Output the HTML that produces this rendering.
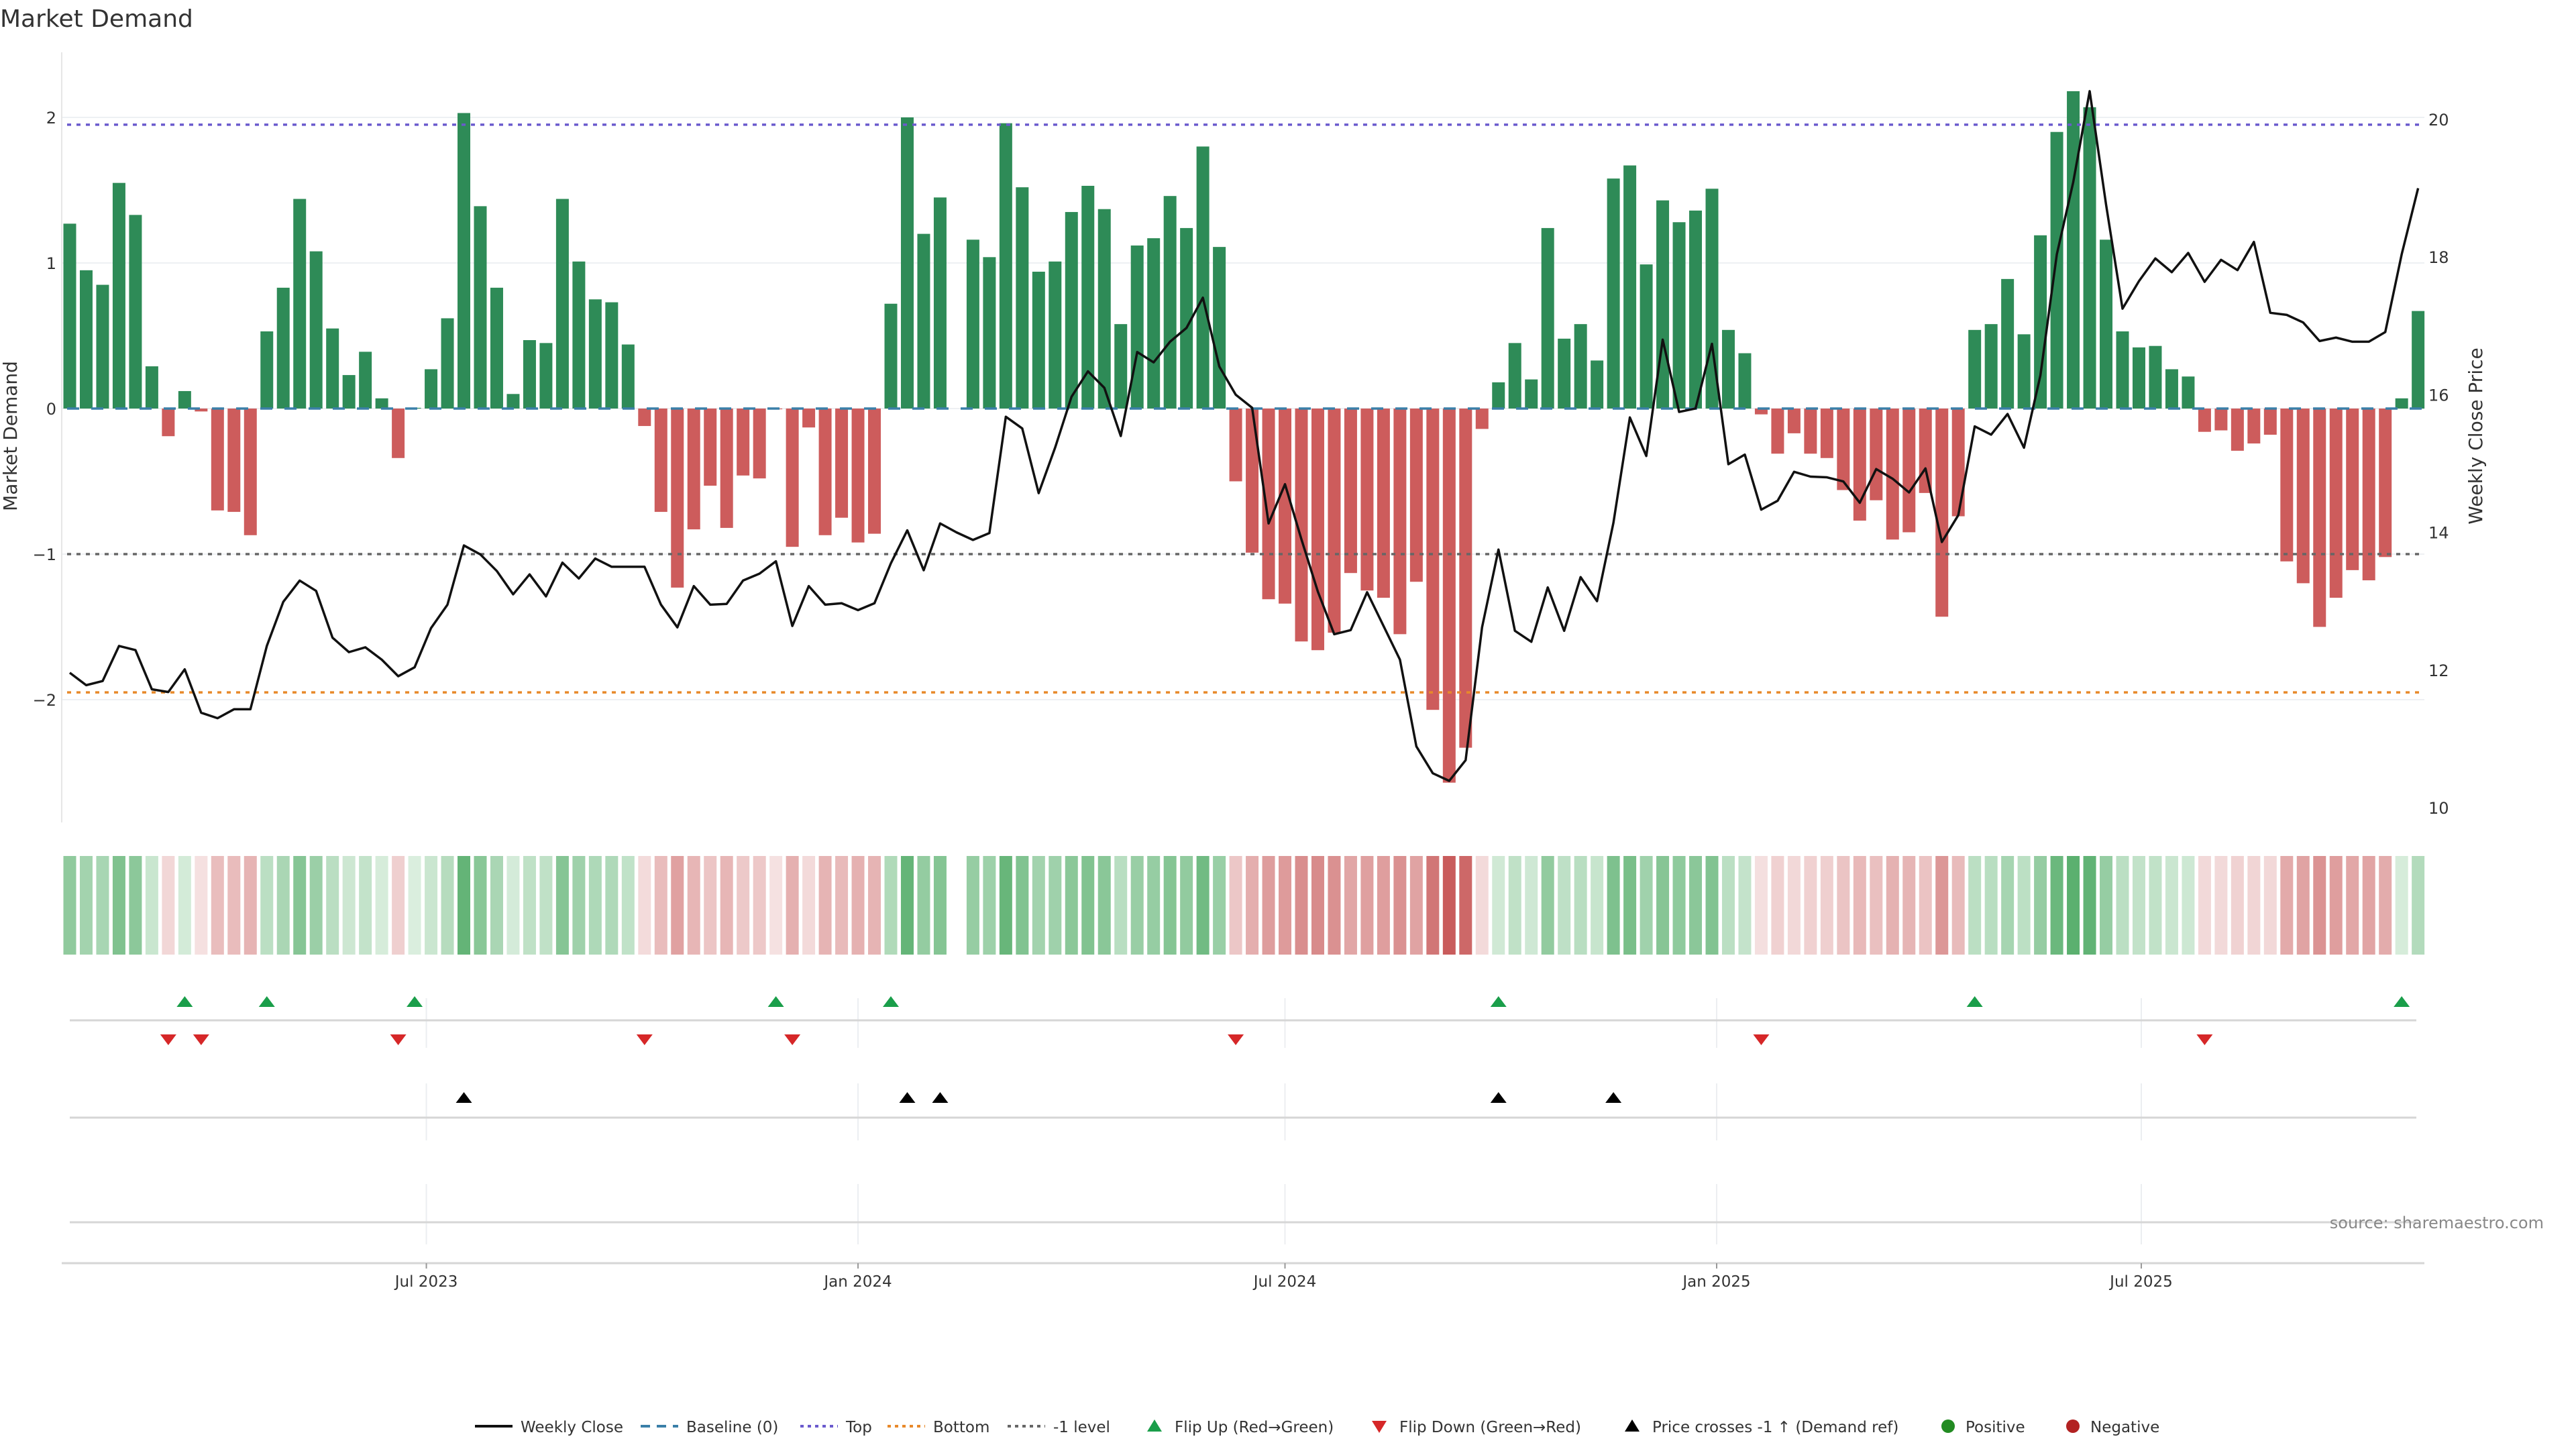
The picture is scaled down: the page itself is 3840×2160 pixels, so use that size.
<!DOCTYPE html>
<html><head><meta charset="utf-8"><style>
html,body{margin:0;padding:0;background:#fff;width:3840px;height:2160px;overflow:hidden}
svg text{font-family:"DejaVu Sans","Liberation Sans",sans-serif}
</style></head><body>
<svg id="chart" width="3840" height="2160" viewBox="0 0 3840 2160" xmlns="http://www.w3.org/2000/svg">
<text x="0" y="40" font-size="36" fill="#333">Market Demand</text>
<g id="grid"></g><g id="bars"></g><g id="lines"></g><g id="heat"></g><g id="marks"></g><g id="axes"></g><g id="legend"></g>
</svg>
<script>
const demand=[1.27,0.95,0.85,1.55,1.33,0.29,-0.19,0.12,-0.02,-0.70,-0.71,-0.87,0.53,0.83,1.44,1.08,0.55,0.23,0.39,0.07,-0.34,0.005,0.27,0.62,2.03,1.39,0.83,0.10,0.47,0.45,1.44,1.01,0.75,0.73,0.44,-0.12,-0.71,-1.23,-0.83,-0.53,-0.82,-0.46,-0.48,-0.005,-0.95,-0.13,-0.87,-0.75,-0.92,-0.86,0.72,2.0,1.2,1.45,null,1.16,1.04,1.96,1.52,0.94,1.01,1.35,1.53,1.37,0.58,1.12,1.17,1.46,1.24,1.80,1.11,-0.50,-0.99,-1.31,-1.34,-1.60,-1.66,-1.54,-1.13,-1.25,-1.30,-1.55,-1.19,-2.07,-2.57,-2.33,-0.14,0.18,0.45,0.20,1.24,0.48,0.58,0.33,1.58,1.67,0.99,1.43,1.28,1.36,1.51,0.54,0.38,-0.04,-0.31,-0.17,-0.31,-0.34,-0.56,-0.77,-0.63,-0.90,-0.85,-0.58,-1.43,-0.74,0.54,0.58,0.89,0.51,1.19,1.90,2.18,2.07,1.16,0.53,0.42,0.43,0.27,0.22,-0.16,-0.15,-0.29,-0.24,-0.18,-1.05,-1.20,-1.50,-1.30,-1.11,-1.18,-1.02,0.07,0.67];
const price=[11.96,11.78,11.84,12.35,12.29,11.72,11.68,12.01,11.38,11.30,11.43,11.43,12.35,12.99,13.30,13.15,12.47,12.26,12.33,12.15,11.91,12.04,12.61,12.95,13.81,13.68,13.44,13.10,13.39,13.07,13.56,13.33,13.62,13.50,13.50,13.50,12.95,12.62,13.22,12.95,12.96,13.30,13.40,13.58,12.64,13.22,12.95,12.97,12.87,12.97,13.55,14.03,13.45,14.13,14.00,13.89,13.99,15.68,15.51,14.57,15.23,15.97,16.34,16.10,15.40,16.62,16.47,16.77,16.97,17.41,16.41,16.00,15.81,14.13,14.70,13.90,13.14,12.52,12.58,13.13,12.64,12.15,10.89,10.50,10.39,10.69,12.62,13.75,12.57,12.41,13.20,12.57,13.35,13.00,14.14,15.67,15.11,16.80,15.75,15.80,16.74,14.99,15.13,14.33,14.46,14.88,14.81,14.80,14.74,14.43,14.92,14.78,14.58,14.93,13.86,14.25,15.54,15.42,15.72,15.23,16.28,18.04,19.09,20.41,18.76,17.25,17.65,17.98,17.78,18.06,17.64,17.96,17.81,18.22,17.19,17.16,17.05,16.78,16.83,16.77,16.77,16.91,18.04,19.00];
const flipUp=[7,12,21,43,50,87,116,142];
const flipDown=[6,8,20,35,44,71,103,130];
const priceCross=[24,51,53,87,94];
const leftTicks=[-2,-1,0,1,2];
const rightTicks=[10,12,14,16,18,20];
const xTickDates=["2023-07-01","2024-01-01","2024-07-01","2025-01-01","2025-07-01"];
const xTickLabels=["Jul 2023","Jan 2024","Jul 2024","Jan 2025","Jul 2025"];
const levels={top:1.95,bottom:-1.95,minus1:-1};
const startDate="2023-01-30";

const NS="http://www.w3.org/2000/svg";
function el(tag,attrs,parent,txt){const e=document.createElementNS(NS,tag);for(const k in attrs)e.setAttribute(k,attrs[k]);if(txt!==undefined)e.textContent=txt;parent.appendChild(e);return e;}
const X0=104,STEP=24.48;
const xi=i=>X0+i*STEP;
const xd=d=>X0+(new Date(d)-new Date(startDate))/86400000/7*STEP;
const yL=v=>609-v*217;
const yR=p=>1204-(p-10)*102.6;
const G=id=>document.getElementById(id);
const grid=G('grid'),bars=G('bars'),lines=G('lines'),heat=G('heat'),marks=G('marks'),axes=G('axes'),legend=G('legend');

leftTicks.forEach(t=>{
  const l=el('line',{x1:92,x2:3614,y1:yL(t),y2:yL(t),stroke:'#eef0f3','stroke-width':2},grid);
  
  
  const tx=el('text',{x:84,y:yL(t)+9,'font-size':24,fill:'#333','text-anchor':'end'},axes,t<0?'\u2212'+Math.abs(t):String(t));
  
  
});
rightTicks.forEach(t=>{
  const tx=el('text',{x:3620,y:yR(t)+9,'font-size':24,fill:'#333'},axes,String(t));
  
  
});
const ax=el('line',{x1:92,x2:92,y1:78,y2:1226,stroke:'#e6e6e6','stroke-width':2},axes);


let t1=el('text',{x:0,y:0,'font-size':28,fill:'#333','text-anchor':'middle',transform:'translate(25,650) rotate(-90)'},axes,'Market Demand');


let t2=el('text',{x:0,y:0,'font-size':28,fill:'#333','text-anchor':'middle',transform:'translate(3700,650) rotate(-90)'},axes,'Weekly Close Price');



demand.forEach((v,i)=>{
  if(v===null)return;
  const y=Math.min(yL(0),yL(v)),h=Math.abs(yL(v)-yL(0));
  const r=el('rect',{x:xi(i)-9.5,y:y,width:19,height:Math.max(h,0.5),fill:v>=0?'#2e8b57':'#cd5c5c'},bars);
  
  
});
const refs=[[levels.top,'#6a5acd','6,8','top-line'],[levels.bottom,'#e8892a','6,8','bottom-line'],[levels.minus1,'#666','6,8','minus1-line'],[0,'#3a7fa8','18,18','baseline-zero']];
refs.forEach(r=>{
  const l=el('line',{x1:100,x2:3612,y1:yL(r[0]),y2:yL(r[0]),stroke:r[1],'stroke-width':3.5,'stroke-dasharray':r[2]},lines);
  
  
});
const pl=el('polyline',{points:price.map((p,i)=>xi(i)+','+yR(p)).join(' '),fill:'none',stroke:'#111','stroke-width':3.5,'stroke-linejoin':'round'},lines);



function hcol(v){
  if(v>=0){const t=Math.min(v/2.4,1);return `rgb(${Math.round(218-140*t)},${Math.round(238-68*t)},${Math.round(222-122*t)})`;}
  const t=Math.min(-v/2.6,1);return `rgb(${Math.round(245-45*t)},${Math.round(225-135*t)},${Math.round(225-135*t)})`;
}
demand.forEach((v,i)=>{
  if(v===null)return;
  const r=el('rect',{x:xi(i)-9.5,y:1276,width:19,height:147,fill:hcol(v)},heat);
  
  
});

xTickDates.forEach(d=>{
  [[1488,1562],[1615,1700],[1765,1855]].forEach(s=>{
    const l=el('line',{x1:xd(d),x2:xd(d),y1:s[0],y2:s[1],stroke:'#eceef1','stroke-width':2},grid);
    
    
  });
});
[1521,1666,1822].forEach(y=>{
  const l=el('line',{x1:104,x2:3602,y1:y,y2:y,stroke:'#d6d6d6','stroke-width':3},marks);
  
  
});
const tri=(x,y,up,c,parent,name)=>{
  const p=up?`${x-12},${y+8} ${x+12},${y+8} ${x},${y-8}`:`${x-12},${y-8} ${x+12},${y-8} ${x},${y+8}`;
  const e=el('polygon',{points:p,fill:c},parent);
  
  
  return e;
};
flipUp.forEach(i=>tri(xi(i),1493,true,'#1a9e4a',marks,'flip-up-marker'));
flipDown.forEach(i=>tri(xi(i),1550,false,'#d62728',marks,'flip-down-marker'));
priceCross.forEach(i=>tri(xi(i),1636,true,'#000',marks,'price-cross-marker'));

const xa=el('line',{x1:92,x2:3614,y1:1883,y2:1883,stroke:'#d6d6d6','stroke-width':3},axes);


xTickDates.forEach((d,k)=>{
  const tk=el('line',{x1:xd(d),x2:xd(d),y1:1883,y2:1891,stroke:'#999','stroke-width':2},axes);
  
  
  const t=el('text',{x:xd(d),y:1918,'font-size':23,fill:'#333','text-anchor':'middle'},axes,xTickLabels[k]);
  
  
});
const src=el('text',{x:3792,y:1831,'font-size':24,fill:'#888','text-anchor':'end'},axes,'source: sharemaestro.com');



const LY=2126;
const items=[
 ['line',708,'#111','','Weekly Close','legend-weekly-close'],
 ['line',955,'#3a7fa8','14,10','Baseline (0)','legend-baseline'],
 ['line',1193,'#6a5acd','5,6','Top','legend-top'],
 ['line',1323,'#e8892a','5,6','Bottom','legend-bottom'],
 ['line',1502,'#666','5,6','-1 level','legend-minus1'],
 ['tu',1711,'#1a9e4a','','Flip Up (Red\u2192Green)','legend-flip-up'],
 ['td',2046,'#d62728','','Flip Down (Green\u2192Red)','legend-flip-down'],
 ['tu',2423,'#000','','Price crosses -1 \u2191 (Demand ref)','legend-price-cross'],
 ['dot',2894,'#228b22','','Positive','legend-positive'],
 ['dot',3080,'#b22222','','Negative','legend-negative']];
items.forEach(it=>{
  const g=el('g',{},legend);
  
  
  let tx;
  if(it[0]==='line'){el('line',{x1:it[1],x2:it[1]+56,y1:LY,y2:LY,stroke:it[2],'stroke-width':4,'stroke-dasharray':it[3]},g);tx=it[1]+68;}
  else if(it[0]==='dot'){el('circle',{cx:it[1]+10,cy:LY,r:10,fill:it[2]},g);tx=it[1]+36;}
  else{const x=it[1]+10;el('polygon',{points:it[0]==='tu'?`${x-11},${LY+8} ${x+11},${LY+8} ${x},${LY-10}`:`${x-11},${LY-8} ${x+11},${LY-8} ${x},${LY+10}`,fill:it[2]},g);tx=it[1]+40;}
  el('text',{x:tx,y:LY+9,'font-size':23,fill:'#333'},g,it[4]);
});
</script>
</body></html>
